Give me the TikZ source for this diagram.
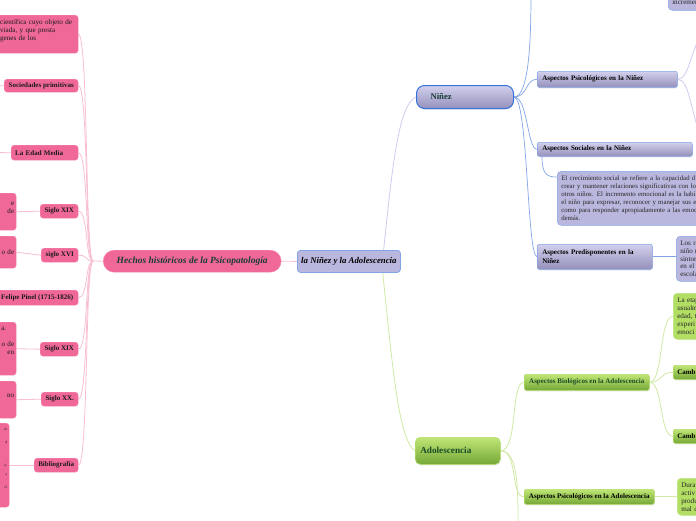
\documentclass[tikz,border=0pt]{standalone}
\usepackage{fontspec}
\setmainfont{Liberation Serif}
\usetikzlibrary{backgrounds,shadows,calc}
\definecolor{pinkF}{RGB}{240,104,152}
\definecolor{pinkL}{RGB}{248,190,212}
\definecolor{pinkB}{RGB}{246,140,180}
\definecolor{lavF}{RGB}{186,183,222}
\definecolor{lavT}{RGB}{210,208,236}
\definecolor{lavBt}{RGB}{148,144,188}
\definecolor{blueB}{RGB}{55,115,220}
\definecolor{blueL}{RGB}{130,165,232}
\definecolor{lavLine}{RGB}{205,205,238}
\definecolor{grT}{RGB}{192,230,118}
\definecolor{grB}{RGB}{118,168,55}
\definecolor{grF}{RGB}{178,222,100}
\definecolor{grLine}{RGB}{208,234,165}
\definecolor{txtTeal}{RGB}{25,60,55}
\definecolor{txtGreen}{RGB}{25,75,40}
\tikzset{
  base/.style={anchor=north west, inner ysep=0pt, font=\bfseries\fontsize{7}{8}\selectfont},
  shadowed/.style={drop shadow={shadow xshift=0.5pt,shadow yshift=-1pt,opacity=0.25}},
  pinkbox/.style={base, draw=pinkB, line width=0.4pt, fill=pinkF, rounded corners=3pt, text=black!90, inner xsep=0pt, align=center},
  pinkpara/.style={pinkbox, font=\fontsize{7.1}{8}\selectfont, align=right, inner xsep=2pt, text width=22pt},
  lavbox/.style={base, top color=lavT, bottom color=lavBt, draw=blueL, line width=0.5pt, rounded corners=2pt, align=left, inner xsep=5pt, text=black, shadowed},
  lavpara/.style={base, fill=lavF, draw=blueL, line width=0.5pt, rounded corners=4pt, align=left, inner xsep=4pt, font=\fontsize{7.1}{8}\selectfont, text=black!85},
  grbox/.style={base, top color=grT, bottom color=grB, draw=grF, line width=0.5pt, rounded corners=2pt, shadowed, text=black},
  grpara/.style={base, fill=grF, draw=grF!80!white, line width=0.5pt, rounded corners=4pt, align=left, inner xsep=4pt, font=\fontsize{7.1}{8}\selectfont, text=black!85},
  pinkline/.style={draw=pinkL, line width=0.8pt},
  lavline/.style={draw=lavLine, line width=0.8pt},
  blueline/.style={draw=blueL, line width=0.7pt},
  greenline/.style={draw=grLine, line width=0.8pt}
}
\begin{document}
\begin{tikzpicture}[x=1pt,y=-1pt]
\useasboundingbox (0,0) rectangle (696,520);

% ---------- left branch ----------
\node[pinkbox, font=\fontsize{7.1}{8}\selectfont, align=left, inner xsep=6pt, text width=72pt, minimum height=38pt] (l1) at (-6,15) {\mbox{científica cuyo objeto de}\\\mbox{viada, y que presta}\\\mbox{genes de los}\\\mbox{}};
\node[pinkbox, minimum width=74pt, minimum height=13pt] (soc) at (4,79) {Sociedades primitivas};
\node[pinkbox, align=left, inner xsep=4pt, text width=59pt, minimum height=15pt] (edad) at (11,145) {La Edad Media};
\node[pinkbox, minimum width=38pt, minimum height=14pt] (s19a) at (40,204) {Siglo XIX};
\node[pinkpara, minimum height=37pt] (c19a) at (-10,193) {e\\de\\\mbox{}};
\node[pinkbox, minimum width=37pt, minimum height=14pt] (s16) at (41,248) {siglo XVI};
\node[pinkpara, minimum height=32pt] (c16) at (-10,236) {o de};
\node[pinkbox, minimum width=82pt, minimum height=15pt] (pinel) at (-4,290) {Felipe Pinel (1715-1826)};
\node[pinkbox, minimum width=38pt, minimum height=14pt] (s19b) at (40,342) {Siglo XIX};
\node[pinkpara, minimum height=53pt] (c19b) at (-10,322) {\mbox{a.\kern8pt}\\\mbox{}\\o de\\en\\\mbox{}\\\mbox{}};
\node[pinkbox, minimum width=37pt, minimum height=14pt] (s20) at (41,392) {Siglo XX.};
\node[pinkpara, minimum height=37pt] (c20) at (-10,381) {no\\\mbox{}};
\node[pinkbox, minimum width=44pt, minimum height=14pt] (bib) at (34,458) {Bibliografía};
\node[pinkpara, font=\fontsize{3.5}{4.5}\selectfont, text width=15pt, minimum height=84pt] (cbib) at (-10,423) {ín\\\mbox{}\\\mbox{}\\d\\\mbox{}\\\mbox{}\\\mbox{}\\,\\n.\\\mbox{}\\a\\\mbox{}\\\mbox{}\\O\\\mbox{}\\\mbox{}\\\mbox{}};
\coordinate (socL) at (-12,85.5);
\coordinate (edadL) at (-12,152.5);

% ---------- centre ----------
\node[base, fill=pinkF, draw=pinkB, line width=0.4pt, rounded corners=11pt, minimum width=178pt, minimum height=22pt, inner xsep=0pt, font=\bfseries\itshape\fontsize{9.5}{11}\selectfont, text=txtTeal] (hechos) at (103,250) {Hechos históricos de la Psicopatología};
\node[base, fill=lavF, draw=blueL, line width=0.8pt, rounded corners=3pt, minimum width=103pt, minimum height=22pt, inner xsep=0pt, font=\bfseries\itshape\fontsize{8.8}{10}\selectfont, text=black] (raiz) at (297,250) {la Niñez y la Adolescencia};
\coordinate (hj) at (93,261);
\coordinate (rup) at (383,256);
\coordinate (rdn) at (382,266);

% ---------- Niñez ----------
\node[base, top color=lavT, bottom color=lavBt, draw=blueB, line width=1pt, rounded corners=8pt, minimum height=23pt, text width=69pt, inner xsep=14pt, align=left, font=\bfseries\fontsize{8.7}{10}\selectfont, text=txtTeal, shadowed] (nin) at (416,85) {Niñez};
\node[lavbox, text width=130pt, minimum height=16pt] (psn) at (537,71) {Aspectos Psicológicos en la Niñez};
\node[lavbox, text width=145pt, minimum height=14pt] (son) at (537,142) {Aspectos Sociales en la Niñez};
\node[lavbox, text width=105pt, minimum height=25pt, font=\bfseries\fontsize{7}{9}\selectfont] (prn) at (537,244) {Aspectos Predisponentes en la\\Niñez};
\node[lavpara, text width=162pt, minimum height=54pt, font=\fontsize{6.8}{8}\selectfont] (sonc) at (557,171) {El crecimiento social se refiere a la capacidad d\\crear y mantener relaciones significativas con lo\\otros niños. El incremento emocional es la habil\\el niño para expresar, reconocer y manejar sus e\\como para responder apropiadamente a las emoc\\demás.};
\node[lavpara, text width=42pt, minimum height=45pt, font=\fontsize{7.1}{7.8}\selectfont] (prnc) at (676,236) {Los ri\\niño (\\sintor\\en el a\\escola};
\node[lavpara, text width=52pt, minimum height=20pt] (topr) at (668,-10) {\mbox{}\\incremen};
\coordinate (ntop) at (531,-8);
\coordinate (pu) at (702,35);
\coordinate (pd) at (702,140);

% ---------- Adolescencia ----------
\node[grbox, rounded corners=5pt, minimum height=27pt, text width=75pt, inner xsep=5pt, align=left, font=\bfseries\fontsize{9.2}{10}\selectfont, text=txtGreen] (ado) at (415,437) {Adolescencia};
\node[grbox, minimum width=125pt, minimum height=16pt, inner xsep=0pt, text=txtGreen] (bio) at (524,374) {Aspectos Biológicos en la Adolescencia};
\node[grbox, minimum width=130pt, minimum height=15pt, inner xsep=0pt] (psa) at (524,489) {Aspectos Psicológicos en la Adolescencia};
\node[grpara, text width=42pt, minimum height=46pt] (bc1) at (673,293) {La etap\\usualm\\edad, t\\experi\\emoci};
\node[grbox, text width=42pt, inner xsep=4pt, align=left, minimum height=14pt] (bc2) at (673,365) {Camb};
\node[grbox, text width=42pt, inner xsep=4pt, align=left, minimum height=14pt] (bc3) at (673,429) {Camb};
\node[grpara, text width=42pt, minimum height=37pt] (psac) at (677,478) {Dura\\activ\\produ\\mal c};
\coordinate (abot) at (518,530);

% ---------- connectors ----------
\begin{scope}[on background layer]
\fill[white] (0,0) rectangle (696,520);
\draw[pinkline] (hechos.west) -- (hj);
\foreach \n in {l1,soc,edad,s19a,s16,pinel,s19b,s20,bib}
  \draw[pinkline] (hj) .. controls +(-8,0) and +(10,0) .. (\n.east);
\draw[pinkline] (soc.west) -- (socL);
\draw[pinkline] (edad.west) -- (edadL);
\draw[pinkline] (c19a.east) -- (s19a.west);
\draw[pinkline] (c16.east) -- (s16.west);
\draw[pinkline] (c19b.east) -- (s19b.west);
\draw[pinkline] (c20.east) -- (s20.west);
\draw[pinkline] (cbib.east) -- (bib.west);
\draw[pinkline] (hechos.east) -- (raiz.west);

\draw[lavline] (rup) .. controls (392,170) and (398,105) .. (nin.west);
\draw[greenline] (rdn) .. controls (392,360) and (398,440) .. (ado.west);

\draw[blueline] (nin.east) .. controls +(16,0) and +(0,40) .. (ntop);
\draw[blueline] (nin.east) .. controls +(14,0) and +(-12,0) .. (psn.west);
\draw[blueline] (nin.east) .. controls +(14,0) and +(-10,0) .. (son.west);
\draw[blueline] (nin.east) .. controls +(14,0) and +(-10,0) .. (prn.west);
\draw[lavline] (psn.east) .. controls +(12,0) and (690,50) .. (pu);
\draw[lavline] (psn.east) .. controls +(12,0) and (690,110) .. (pd);
\draw[blueline] ($(son.south west)+(5,0)$) .. controls +(0,18) and +(-10,0) .. ($(sonc.north west)+(0,6)$);
\draw[blueline] (prn.east) -- (prn.east -| prnc.west);

\draw[greenline] (ado.east) .. controls +(18,0) and +(-14,0) .. (bio.west);
\draw[greenline] (ado.east) .. controls +(18,0) and +(-14,0) .. (psa.west);
\draw[greenline] (ado.east) .. controls +(18,0) and +(0,-40) .. (abot);
\draw[greenline] (bio.east) .. controls +(14,0) and +(-14,0) .. (bc1.west);
\draw[greenline] (bio.east) .. controls +(14,0) and +(-14,0) .. (bc2.west);
\draw[greenline] (bio.east) .. controls +(14,0) and +(-14,0) .. (bc3.west);
\draw[greenline] (psa.east) -- (psa.east -| psac.west);
\end{scope}
\end{tikzpicture}
\end{document}
